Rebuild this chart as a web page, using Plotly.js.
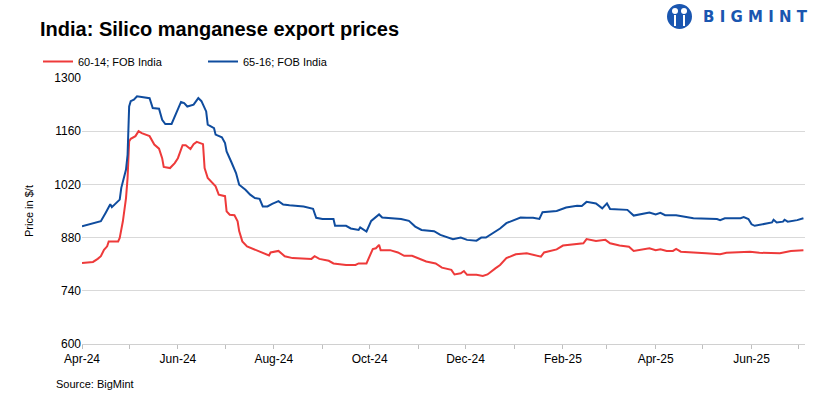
<!DOCTYPE html>
<html>
<head>
<meta charset="utf-8">
<script src="https://cdn.plot.ly/plotly-3.0.1.min.js"></script>
<style>html,body{margin:0;padding:0;background:#fff;}#chart{width:821px;height:399px;}</style>
</head>
<body>
<div id="chart"></div>
<script>
// 65-16; FOB India
const datesB = ["2024-04-01","2024-04-07","2024-04-10","2024-04-13","2024-04-16","2024-04-19","2024-04-20","2024-04-23","2024-04-25","2024-04-26","2024-04-29","2024-04-30","2024-05-01","2024-05-02","2024-05-04","2024-05-06","2024-05-10","2024-05-14","2024-05-16","2024-05-20","2024-05-22","2024-05-24","2024-05-28","2024-05-30","2024-06-03","2024-06-05","2024-06-07","2024-06-11","2024-06-14","2024-06-16","2024-06-19","2024-06-20","2024-06-24","2024-06-25","2024-06-29","2024-07-01","2024-07-02","2024-07-05","2024-07-08","2024-07-10","2024-07-14","2024-07-17","2024-07-20","2024-07-23","2024-07-25","2024-07-28","2024-07-31","2024-08-04","2024-08-07","2024-08-11","2024-08-20","2024-08-26","2024-08-28","2024-09-01","2024-09-08","2024-09-09","2024-09-16","2024-09-19","2024-09-24","2024-09-25","2024-09-29","2024-10-02","2024-10-04","2024-10-07","2024-10-09","2024-10-14","2024-10-21","2024-10-26","2024-10-30","2024-11-03","2024-11-11","2024-11-15","2024-11-20","2024-11-23","2024-11-28","2024-12-02","2024-12-08","2024-12-11","2024-12-14","2024-12-18","2024-12-23","2024-12-27","2025-01-05","2025-01-09","2025-01-13","2025-01-17","2025-01-19","2025-01-28","2025-02-03","2025-02-10","2025-02-13","2025-02-16","2025-02-22","2025-02-26","2025-03-01","2025-03-03","2025-03-14","2025-03-18","2025-03-24","2025-03-28","2025-04-01","2025-04-04","2025-04-07","2025-04-14","2025-04-25","2025-05-10","2025-05-12","2025-05-15","2025-05-25","2025-05-27","2025-05-30","2025-06-01","2025-06-03","2025-06-09","2025-06-14","2025-06-15","2025-06-17","2025-06-21","2025-06-22","2025-06-24","2025-06-30","2025-07-04"];
const price6516 = [910,916,918,923,945,968,960,971,980,1011,1059,1098,1225,1239,1243,1252,1249,1247,1221,1219,1190,1179,1179,1199,1237,1234,1225,1230,1247,1239,1212,1177,1168,1151,1144,1129,1107,1079,1050,1019,1006,993,984,982,962,962,969,976,967,965,962,956,932,929,929,911,911,904,900,907,896,924,931,941,933,932,929,924,909,900,897,887,880,876,880,874,872,880,880,891,904,918,933,932,932,929,947,950,959,964,963,974,970,957,970,955,953,938,944,946,941,945,939,939,931,929,926,931,931,934,929,915,911,917,920,927,920,922,927,922,926,931];

// 60-14; FOB India
const datesA = ["2024-04-01","2024-04-08","2024-04-11","2024-04-13","2024-04-15","2024-04-17","2024-04-18","2024-04-24","2024-04-25","2024-04-27","2024-04-29","2024-04-30","2024-05-01","2024-05-02","2024-05-05","2024-05-07","2024-05-09","2024-05-11","2024-05-14","2024-05-17","2024-05-20","2024-05-22","2024-05-23","2024-05-27","2024-05-30","2024-06-01","2024-06-04","2024-06-06","2024-06-09","2024-06-11","2024-06-13","2024-06-17","2024-06-18","2024-06-20","2024-06-23","2024-06-25","2024-06-27","2024-07-01","2024-07-02","2024-07-04","2024-07-07","2024-07-09","2024-07-10","2024-07-12","2024-07-15","2024-07-20","2024-07-23","2024-07-27","2024-07-29","2024-07-30","2024-08-04","2024-08-08","2024-08-13","2024-08-25","2024-08-27","2024-08-30","2024-09-05","2024-09-08","2024-09-16","2024-09-22","2024-09-24","2024-09-29","2024-10-03","2024-10-05","2024-10-07","2024-10-08","2024-10-14","2024-10-19","2024-10-23","2024-10-28","2024-11-02","2024-11-06","2024-11-12","2024-11-16","2024-11-22","2024-11-24","2024-11-28","2024-11-30","2024-12-02","2024-12-08","2024-12-12","2024-12-15","2024-12-20","2024-12-23","2024-12-27","2025-01-02","2025-01-09","2025-01-15","2025-01-18","2025-01-20","2025-01-28","2025-02-01","2025-02-07","2025-02-14","2025-02-16","2025-02-22","2025-02-28","2025-03-03","2025-03-09","2025-03-15","2025-03-18","2025-03-24","2025-03-28","2025-04-01","2025-04-04","2025-04-08","2025-04-12","2025-04-14","2025-04-17","2025-05-03","2025-05-12","2025-05-16","2025-05-31","2025-06-06","2025-06-19","2025-06-26","2025-07-04"];
const price6014 = [813,816,824,831,848,857,870,870,879,923,984,1037,1133,1140,1147,1160,1155,1151,1147,1125,1114,1089,1066,1063,1076,1089,1123,1123,1113,1126,1132,1126,1063,1037,1024,1015,993,989,949,940,939,923,897,870,857,848,844,835,833,841,845,831,826,824,831,824,819,812,808,808,812,812,850,852,861,847,847,841,832,832,824,817,812,801,795,783,786,792,782,782,779,783,799,808,826,836,839,834,830,841,849,859,862,865,876,871,874,865,859,856,845,850,852,847,849,845,845,850,843,839,836,840,843,840,839,845,847];

const seriesNames = ["60-14; FOB India", "65-16; FOB India"];
const yTicks = [600, 740, 880, 1020, 1160, 1300];

const FONT = "Liberation Sans, Arial, sans-serif";
const RED = "#EE3A3A";
const BLUE = "#0F4C9E";

const traces = [
  {x: datesA, y: price6014, name: seriesNames[0], type: "scatter", mode: "lines",
   line: {color: RED, width: 2}},
  {x: datesB, y: price6516, name: seriesNames[1], type: "scatter", mode: "lines",
   line: {color: BLUE, width: 2}}
];

const layout = {
  width: 821, height: 399,
  margin: {l: 82, r: 16, t: 78, b: 55},
  paper_bgcolor: "#fff", plot_bgcolor: "#fff",
  font: {family: FONT, color: "#000", size: 12},
  title: {text: "<b>India: Silico manganese export prices</b>", xref: "container", yref: "container",
          x: 40/821, xanchor: "left", y: 1 - 22/399, yanchor: "top",
          font: {family: FONT, size: 20, color: "#000"}},
  showlegend: true,
  legend: {orientation: "h", xref: "container", yref: "container", x: 38/821, xanchor: "left",
           y: 1 - 47/399, yanchor: "top", font: {family: FONT, size: 11, color: "#000"},
           itemwidth: 30, entrywidthmode: "pixels", entrywidth: 120, bgcolor: "rgba(0,0,0,0)",
           traceorder: "normal"},
  xaxis: {type: "date", range: ["2024-04-01", "2025-07-05"], tick0: "2024-04-01", dtick: "M2",
          tickformat: "%b-%y", ticks: "outside", ticklen: 4, tickcolor: "#bfbfbf",
          minor: {dtick: "M1", ticks: "outside", ticklen: 4, tickcolor: "#bfbfbf", showgrid: false},
          showline: true, linecolor: "#d0d0d0", linewidth: 1, showgrid: false, zeroline: false,
          tickfont: {family: FONT, size: 12, color: "#000"}},
  yaxis: {range: [600, 1300], tickvals: yTicks, ticktext: yTicks.map(String), showline: false,
          showgrid: true, gridcolor: "#d9d9d9", gridwidth: 1, zeroline: false, ticks: "",
          tickfont: {family: FONT, size: 12, color: "#000"},
          title: {text: "Price in $/t", standoff: 18, font: {family: FONT, size: 11, color: "#000"}}},
  shapes: [
    {type: "circle", xref: "paper", yref: "paper", layer: "above",
     x0: (667-82)/723, x1: (692-82)/723, y0: (344-29)/266, y1: (344-4)/266,
     fillcolor: "#1A56B0", line: {width: 0}},
    {type: "line", xref: "paper", yref: "paper", x0: (675-82)/723, x1: (675-82)/723,
     y0: (344-26)/266, y1: (344-15)/266, line: {color: "#fff", width: 2}},
    {type: "line", xref: "paper", yref: "paper", x0: (684-82)/723, x1: (684-82)/723,
     y0: (344-26)/266, y1: (344-15)/266, line: {color: "#fff", width: 2}},
    {type: "circle", xref: "paper", yref: "paper", x0: (672-82)/723, x1: (678-82)/723,
     y0: (344-14)/266, y1: (344-8)/266, fillcolor: "#fff", line: {width: 0}},
    {type: "circle", xref: "paper", yref: "paper", x0: (681-82)/723, x1: (687-82)/723,
     y0: (344-14)/266, y1: (344-8)/266, fillcolor: "#fff", line: {width: 0}}
  ],
  annotations: [
    {text: "Source: BigMint", xref: "paper", yref: "paper", x: (54-82)/723, y: (344-384)/266,
     xanchor: "left", yanchor: "middle", showarrow: false,
     font: {family: FONT, size: 11, color: "#000"}},
    {text: "<b>B I G M I N T</b>", xref: "paper", yref: "paper", x: (701-82)/723, y: (344-17)/266,
     xanchor: "left", yanchor: "middle", showarrow: false,
     font: {family: "DejaVu Sans, sans-serif", size: 15, color: "#1A56B0"}}
  ],
  hovermode: false
};

Plotly.newPlot("chart", traces, layout, {displayModeBar: false, staticPlot: true});
</script>
</body>
</html>
